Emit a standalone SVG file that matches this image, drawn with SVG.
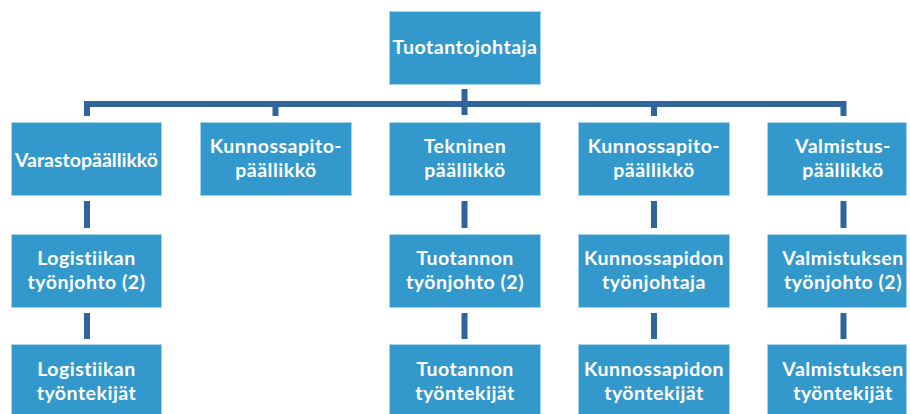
<svg xmlns="http://www.w3.org/2000/svg" width="910" height="414" viewBox="0 0 910 414">
<style>
.box{fill:#3399cc;stroke:#a6d3ec;stroke-width:1}
.t{font-family:Lato,"Open Sans","Liberation Sans",sans-serif;font-size:19.5px;font-weight:bold;letter-spacing:0.5px;fill:#ffffff;text-anchor:middle}
.n{letter-spacing:0px}
.c{fill:none;stroke:#2f659a;stroke-width:6}
</style>
<rect width="910" height="414" fill="#ffffff"/>
<g id="connectors">
<path class="c" d="M87,116 V104 H843.5 V116"/>
<path class="c" d="M464.5,89 V115"/>
<path class="c" d="M275.5,104 V116"/>
<path class="c" d="M654,104 V116"/>
<path class="c" d="M87,201 V228 M87,313 V339"/>
<path class="c" d="M464.5,201 V228 M464.5,313 V339"/>
<path class="c" d="M654,201 V228 M654,313 V339"/>
<path class="c" d="M843.5,201 V228 M843.5,313 V339"/>
</g>
<g id="tuotantojohtaja"><rect class="box" x="389.5" y="11.5" width="151" height="73"/><text class="t" x="465" y="54">Tuotantojohtaja</text></g>
<g id="varastopaallikko"><rect class="box" x="11.5" y="122.5" width="150" height="73"/><text class="t n" x="86.5" y="167">Varastopäällikkö</text></g>
<g id="kunnossapitopaallikko1"><rect class="box" x="200.5" y="122.5" width="151" height="73"/><text class="t" x="276" y="153">Kunnossapito-</text><text class="t" x="276" y="177">päällikkö</text></g>
<g id="tekninenpaallikko"><rect class="box" x="389.5" y="122.5" width="151" height="73"/><text class="t" x="465" y="153">Tekninen</text><text class="t" x="465" y="177">päällikkö</text></g>
<g id="kunnossapitopaallikko2"><rect class="box" x="578.5" y="122.5" width="151" height="73"/><text class="t" x="654" y="153">Kunnossapito-</text><text class="t" x="654" y="177">päällikkö</text></g>
<g id="valmistuspaallikko"><rect class="box" x="767.5" y="122.5" width="139" height="73"/><text class="t" x="843" y="153">Valmistus-</text><text class="t" x="843" y="177">päällikkö</text></g>
<g id="logistiikantyonjohto"><rect class="box" x="11.5" y="234.5" width="150" height="73"/><text class="t" x="86.5" y="265">Logistiikan</text><text class="t" x="86.5" y="289">työnjohto (2)</text></g>
<g id="tuotannontyonjohto"><rect class="box" x="389.5" y="234.5" width="151" height="73"/><text class="t" x="465" y="265">Tuotannon</text><text class="t" x="465" y="289">työnjohto (2)</text></g>
<g id="kunnossapidontyonjohtaja"><rect class="box" x="578.5" y="234.5" width="151" height="73"/><text class="t" x="654" y="265">Kunnossapidon</text><text class="t" x="654" y="289">työnjohtaja</text></g>
<g id="valmistuksentyonjohto"><rect class="box" x="767.5" y="234.5" width="139" height="73"/><text class="t" x="843" y="265">Valmistuksen</text><text class="t" x="843" y="289">työnjohto (2)</text></g>
<g id="logistiikantyontekijat"><rect class="box" x="11.5" y="344.5" width="150" height="73"/><text class="t" x="86.5" y="376">Logistiikan</text><text class="t" x="86.5" y="400">työntekijät</text></g>
<g id="tuotannontyontekijat"><rect class="box" x="389.5" y="344.5" width="151" height="73"/><text class="t" x="465" y="376">Tuotannon</text><text class="t" x="465" y="400">työntekijät</text></g>
<g id="kunnossapidontyontekijat"><rect class="box" x="578.5" y="344.5" width="151" height="73"/><text class="t" x="654" y="376">Kunnossapidon</text><text class="t" x="654" y="400">työntekijät</text></g>
<g id="valmistuksentyontekijat"><rect class="box" x="767.5" y="344.5" width="139" height="73"/><text class="t" x="843" y="376">Valmistuksen</text><text class="t" x="843" y="400">työntekijät</text></g>
</svg>
